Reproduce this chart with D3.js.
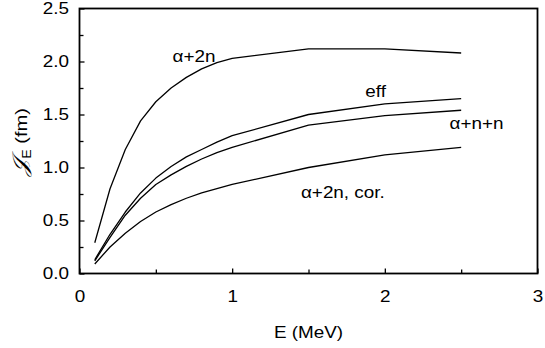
<!DOCTYPE html>
<html>
<head>
<meta charset="utf-8">
<script src="https://cdn.jsdelivr.net/npm/d3@7/dist/d3.min.js"></script>
<style>
  body { margin: 0; background: #fff; }
  svg { display: block; font-family: "Liberation Sans", Arial, sans-serif; }
  .axis path, .axis line { stroke: #000; }
  .axis text { fill: #000; }
</style>
</head>
<body>
<div id="chart"></div>
<script>
// energy grid (MeV), shared by all curves
const energies = [0.1, 0.2, 0.3, 0.4, 0.5, 0.6, 0.7, 0.8, 0.9, 1.0, 1.5, 2.0, 2.5]

// J_E (fm)
const alpha2n    = [0.29, 0.80, 1.17, 1.44, 1.62, 1.75, 1.85, 1.93, 1.99, 2.03, 2.12, 2.12, 2.08]
const effective  = [0.13, 0.37, 0.58, 0.76, 0.90, 1.01, 1.10, 1.17, 1.24, 1.30, 1.50, 1.60, 1.65]
const alphaNN    = [0.12, 0.34, 0.55, 0.71, 0.84, 0.93, 1.01, 1.08, 1.14, 1.19, 1.40, 1.49, 1.54]
const alpha2nCor = [0.09, 0.25, 0.38, 0.49, 0.58, 0.65, 0.71, 0.76, 0.80, 0.84, 1.00, 1.12, 1.19]

const series = [alpha2n, effective, alphaNN, alpha2nCor]

// curve labels, placed in data units (E, J)
const labels = [
  { text: 'α+2n', e: 0.75, j: 2.0 },
  { text: 'eff', e: 1.94, j: 1.665 },
  { text: 'α+n+n', e: 2.60, j: 1.36 },
  { text: 'α+2n, cor.', e: 1.725, j: 0.71 }
]

const xMajor = [0, 1, 2, 3]
const xMinor = [0.5, 1.5, 2.5]
const yMajor = [0, 0.5, 1.0, 1.5, 2.0, 2.5]
const yMinor = [0.25, 0.75, 1.25, 1.75, 2.25]

const W = 545, H = 348
const margin = { top: 8.5, right: 7.5, bottom: 74.5, left: 79.5 }
const fontSize = 16
const stretch = 1.18   // the reference text is a bit wide

const x = d3.scaleLinear().domain([0, 3]).range([margin.left, W - margin.right])
const y = d3.scaleLinear().domain([0, 2.5]).range([H - margin.bottom, margin.top])

const svg = d3.select('#chart').append('svg')
  .attr('width', W)
  .attr('height', H)

// bottom axis: major + minor ticks pointing inward
const gx = svg.append('g')
  .attr('class', 'axis')
  .attr('transform', `translate(0,${y(0)})`)

gx.call(d3.axisBottom(x).tickValues(xMajor).tickSize(-5).tickPadding(17).tickFormat(d3.format('d')))
gx.append('g')
  .call(d3.axisBottom(x).tickValues(xMinor).tickSize(-4).tickFormat(''))
  .select('.domain').remove()

gx.selectAll('text')
  .attr('font-size', fontSize)
  .attr('font-family', null)
  .attr('transform', `scale(${stretch},1)`)

// left axis
const gy = svg.append('g')
  .attr('class', 'axis')
  .attr('transform', `translate(${x(0)},0)`)

gy.call(d3.axisLeft(y).tickValues(yMajor).tickSize(-5).tickPadding(9).tickFormat(d3.format('.1f')))
gy.append('g')
  .call(d3.axisLeft(y).tickValues(yMinor).tickSize(-4).tickFormat(''))
  .select('.domain').remove()

gy.selectAll('text')
  .attr('font-size', fontSize)
  .attr('font-family', null)
  .attr('dy', '0.34em')
  .attr('transform', `scale(${stretch},1)`)

svg.selectAll('.axis line').attr('stroke-width', 1.3)
svg.selectAll('.axis .domain').remove()

// frame round the plot
svg.append('rect')
  .attr('x', x(0))
  .attr('y', y(2.5))
  .attr('width', x(3) - x(0))
  .attr('height', y(0) - y(2.5))
  .attr('fill', 'none')
  .attr('stroke', '#000')
  .attr('stroke-width', 1.8)

// curves
const line = d3.line()
  .x((d, i) => x(energies[i]))
  .y(d => y(d))

svg.append('g')
  .selectAll('path')
  .data(series)
  .join('path')
  .attr('d', line)
  .attr('fill', 'none')
  .attr('stroke', '#000')
  .attr('stroke-width', 1.3)
  .attr('stroke-linejoin', 'round')

// curve labels
svg.append('g')
  .selectAll('g')
  .data(labels)
  .join('g')
  .attr('transform', d => `translate(${x(d.e)},${y(d.j)}) scale(${stretch},1)`)
  .append('text')
  .attr('text-anchor', 'middle')
  .attr('font-size', fontSize)
  .text(d => d.text)

// axis titles
svg.append('g')
  .attr('transform', `translate(${(x(0) + x(3)) / 2},338) scale(${stretch},1)`)
  .append('text')
  .attr('text-anchor', 'middle')
  .attr('font-size', fontSize)
  .text('E (MeV)')

const yTitle = svg.append('g')
  .attr('transform', `translate(27,${(y(0) + y(2.5)) / 2 + 1}) rotate(-90) scale(${stretch},1)`)
  .append('text')
  .attr('text-anchor', 'middle')
  .attr('font-size', 17)

yTitle.append('tspan').attr('font-family', '"DejaVu Serif", serif').attr('font-style', 'italic').attr('font-size', 21).text('𝒥')
yTitle.append('tspan').attr('font-size', 12).attr('dy', 4).text('E')
yTitle.append('tspan').attr('dy', -4).text(' (fm)')
</script>
</body>
</html>
